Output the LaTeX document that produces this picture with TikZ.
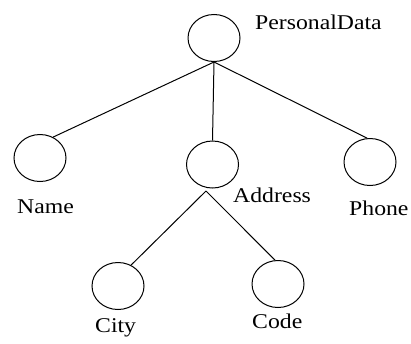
\documentclass[tikz,border=0pt]{standalone}
\usepackage{fontspec}
\setmainfont{Liberation Serif}
\usetikzlibrary{shapes.geometric}
\newcommand{\lbltext}[1]{\scalebox{1.13}[1]{#1}}
\begin{document}
\begin{tikzpicture}[x=1pt,y=-1pt,
  elem/.style={draw,ellipse,line width=1pt,minimum width=52pt,minimum height=47pt,inner sep=0pt},
  conn/.style={line width=1pt},
  lbl/.style={anchor=base west,inner sep=0pt,font=\fontsize{21}{24}\selectfont}]
\useasboundingbox (0,0) rectangle (411,343);
\node[elem] (root) at (214,38) {};
\node[elem] (name) at (40,158) {};
\node[elem] (address) at (212.5,164.5) {};
\node[elem] (phone) at (370,162) {};
\node[elem] (city) at (118,286) {};
\node[elem] (code) at (278,284) {};
\coordinate (asplit) at (206,191);
\node[lbl] (lroot) at (255,29) {\lbltext{PersonalData}};
\node[lbl] (lname) at (17,213) {\lbltext{Name}};
\node[lbl] (laddress) at (233,202) {\lbltext{Address}};
\node[lbl] (lphone) at (349,215) {\lbltext{Phone}};
\node[lbl] (lcity) at (95,332) {\lbltext{City}};
\node[lbl] (lcode) at (252,328) {\lbltext{Code}};
\draw[conn] (root.south) -- (name.58);
\draw[conn] (root.south) -- (address.north);
\draw[conn] (root.south) -- (phone.97);
\draw[conn] (asplit) -- (city.58);
\draw[conn] (asplit) -- (code.97);
\end{tikzpicture}
\end{document}
